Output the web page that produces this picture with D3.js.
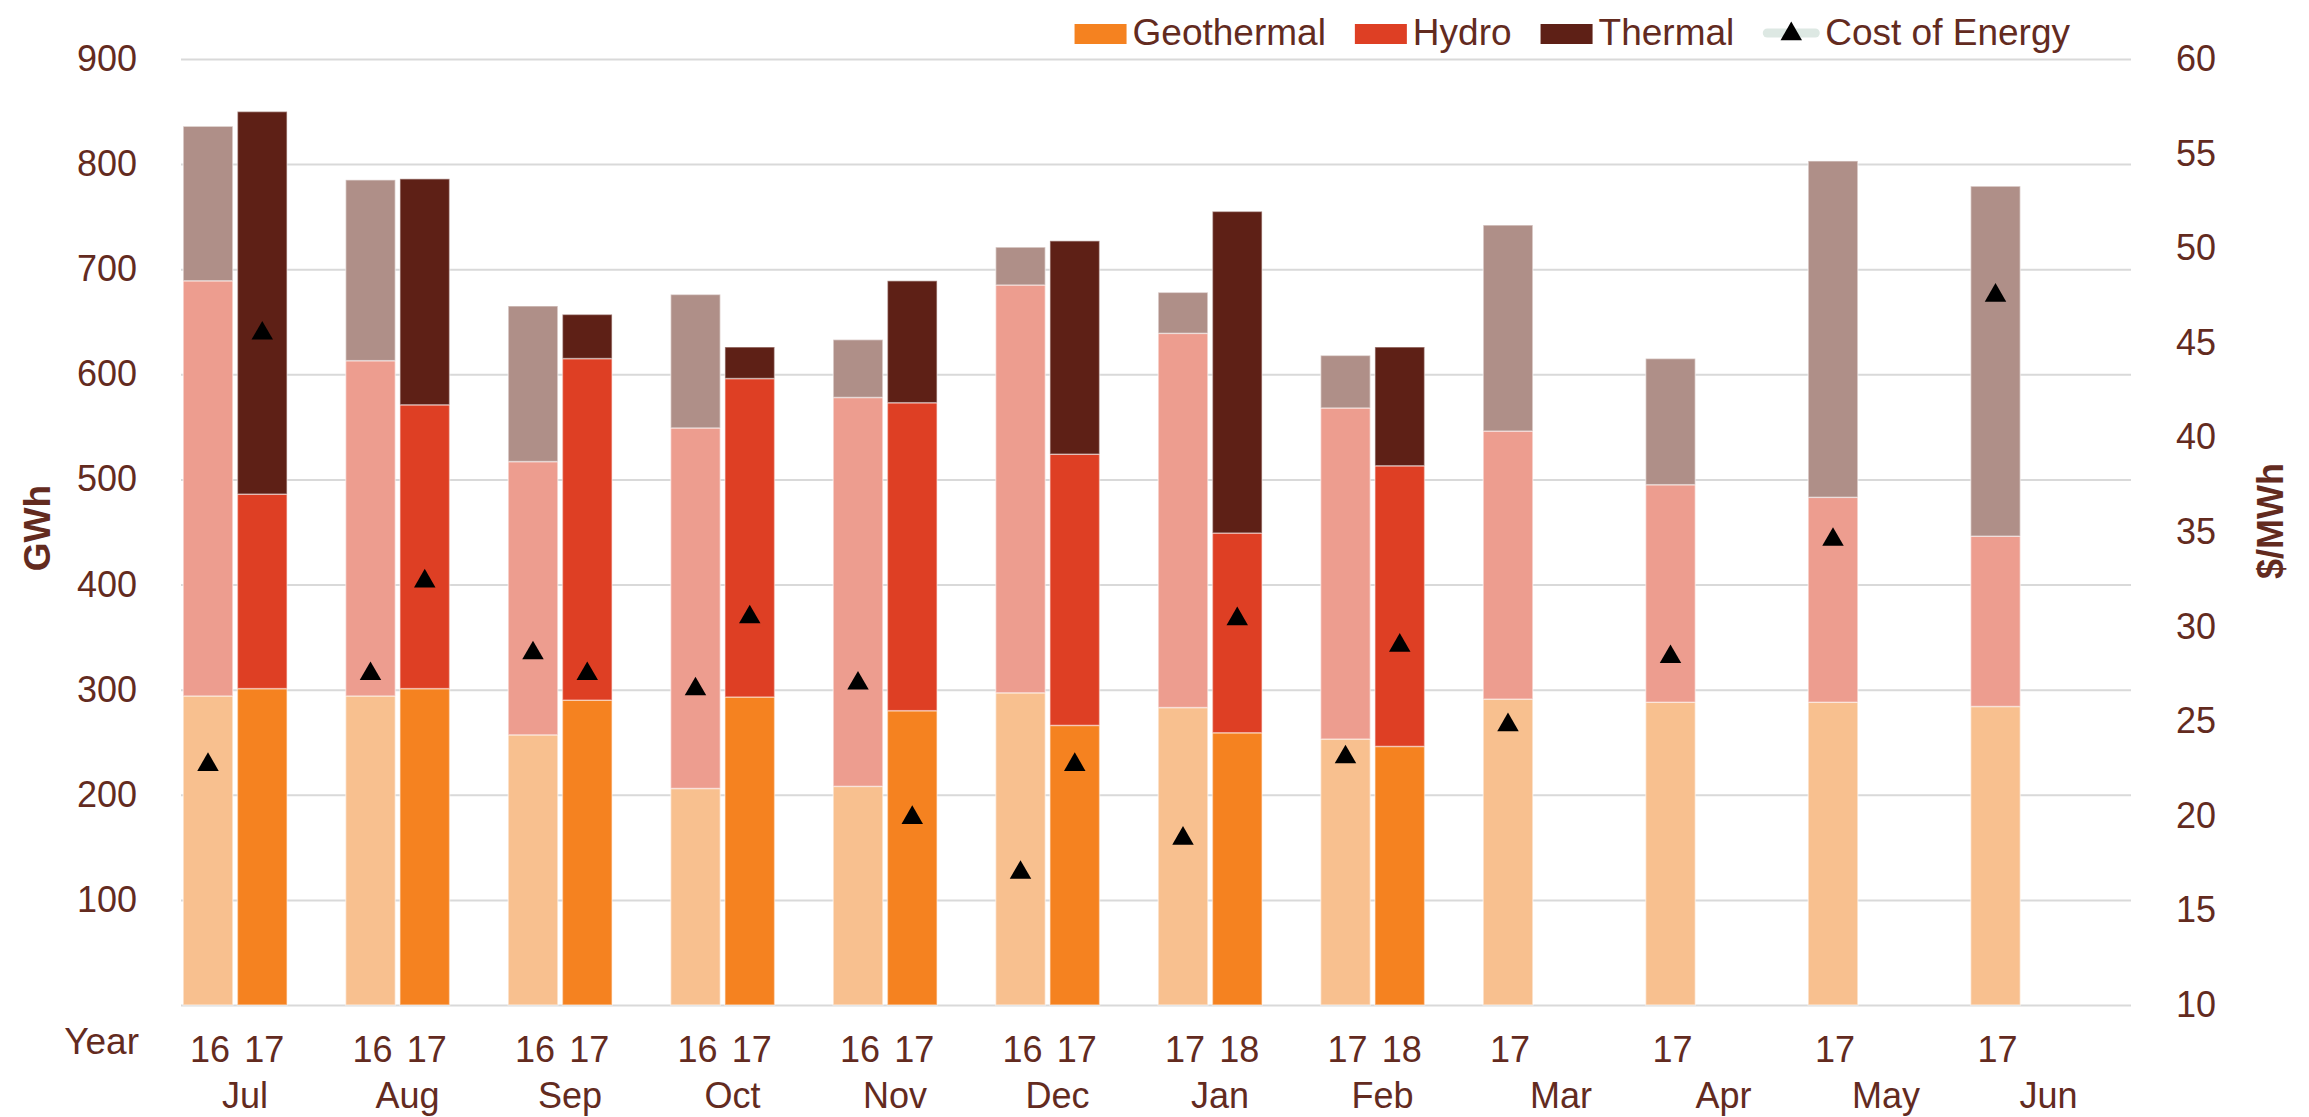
<!DOCTYPE html>
<html>
<head>
<meta charset="utf-8">
<script src="https://cdn.jsdelivr.net/npm/d3@7"></script>
<style>
  html, body { margin: 0; padding: 0; background: #fff; }
  svg { display: block; font-family: "Liberation Sans", Arial, sans-serif; }
</style>
</head>
<body>
<div id="chart"></div>
<script>
// months of the year, Jul -> Jun
const months = ["Jul", "Aug", "Sep", "Oct", "Nov", "Dec", "Jan", "Feb", "Mar", "Apr", "May", "Jun"];
const prevYear = ["16", "16", "16", "16", "16", "16", "17", "17", "17", "17", "17", "17"];
const currYear = ["17", "17", "17", "17", "17", "17", "18", "18", null, null, null, null];

// GWh per segment, earlier year (light bars)
const geoPrev     = [294, 294, 257, 206, 208, 297, 283, 253, 291, 288, 288, 284];
const hydroPrev   = [395, 319, 260, 343, 370, 388, 356, 315, 255, 207, 195, 162];
const thermalPrev = [147, 172, 148, 127,  55,  36,  39,  50, 196, 120, 320, 333];
// GWh per segment, later year (dark bars)
const geoCurr     = [301, 301, 290, 293, 280, 266, 259, 246];
const hydroCurr   = [185, 270, 325, 303, 293, 258, 190, 267];
const thermalCurr = [364, 215,  42,  30, 116, 203, 306, 113];

// $/MWh
const costPrev = [22.7, 27.5, 28.6, 26.7, 27.0, 17.0, 18.8, 23.1, 24.8, 28.4, 34.6, 47.5];
const costCurr = [45.5, 32.4, 27.5, 30.5, 19.9, 22.7, 30.4, 29.0];

const leftTicks = [100, 200, 300, 400, 500, 600, 700, 800, 900];
const rightTicks = [10, 15, 20, 25, 30, 35, 40, 45, 50, 55, 60];

const W = 2309, H = 1117;
const m = { left: 181, right: 178, top: 59, bottom: 112 };
const TXT = "#632b1f";
const colors = {
  prev: { geo: "#f8c08f", hydro: "#ed9d8f", thermal: "#af8f88" },
  curr: { geo: "#f58220", hydro: "#de3f24", thermal: "#5e2016" }
};

const svg = d3.select("#chart").append("svg").attr("width", W).attr("height", H);

const x = d3.scaleBand().domain(months).range([m.left, W - m.right]);
const inner = d3.scaleBand().domain(["prev", "curr", "spare"])
  .range([0, x.bandwidth()]).paddingInner(0.085).paddingOuter(0.04);
const y = d3.scaleLinear().domain([0, 900]).range([H - m.bottom, m.top]);
const y2 = d3.scaleLinear().domain([10, 60]).range([H - m.bottom, m.top]);

// gridlines (left axis values, incl. 0)
svg.append("g")
  .attr("transform", `translate(${m.left},0)`)
  .call(d3.axisLeft(y).tickValues([0].concat(leftTicks)).tickSize(-(W - m.left - m.right)).tickFormat(""))
  .call(g => g.select(".domain").remove())
  .call(g => g.selectAll("line").attr("stroke", "#d9d9d9").attr("stroke-width", 2));

// left axis labels
svg.append("g")
  .attr("transform", "translate(137,0)")
  .call(d3.axisLeft(y).tickValues(leftTicks).tickSize(0).tickPadding(0))
  .call(g => g.select(".domain").remove())
  .call(g => g.selectAll("text").attr("fill", TXT).style("font-size", "36px")
    .style("font-family", "'Liberation Sans', Arial, sans-serif"));

// right axis labels
svg.append("g")
  .attr("transform", "translate(2216,0)")
  .call(d3.axisLeft(y2).tickValues(rightTicks).tickSize(0).tickPadding(0))
  .call(g => g.select(".domain").remove())
  .call(g => g.selectAll("text").attr("fill", TXT).style("font-size", "36px")
    .style("font-family", "'Liberation Sans', Arial, sans-serif"));

// build stacked rows
const rows = [];
months.forEach((mo, i) => {
  rows.push({ month: mo, slot: "prev", year: prevYear[i], geo: geoPrev[i], hydro: hydroPrev[i], thermal: thermalPrev[i], cost: costPrev[i] });
  if (currYear[i] != null) {
    rows.push({ month: mo, slot: "curr", year: currYear[i], geo: geoCurr[i], hydro: hydroCurr[i], thermal: thermalCurr[i], cost: costCurr[i] });
  }
});
const keys = ["geo", "hydro", "thermal"];
const stacked = d3.stack().keys(keys)(rows);

const barX = d => x(d.month) + inner(d.slot);

stacked.forEach(layer => {
  svg.append("g").selectAll("rect")
    .data(layer)
    .join("rect")
    .attr("x", d => barX(d.data))
    .attr("width", inner.bandwidth())
    .attr("y", d => y(d[1]))
    .attr("height", d => y(d[0]) - y(d[1]))
    .attr("fill", d => colors[d.data.slot][layer.key])
    .attr("stroke", "rgba(255,255,255,0.45)")
    .attr("stroke-width", 1.5);
});

// cost markers
const tri = d3.symbol().type(d3.symbolTriangle).size(200);
svg.append("g").selectAll("path")
  .data(rows)
  .join("path")
  .attr("d", tri)
  .attr("transform", d => `translate(${barX(d) + inner.bandwidth() / 2},${y2(d.cost)})`)
  .attr("fill", "#000");

// category labels: years under bars, months under groups
svg.append("g").selectAll("text")
  .data(rows)
  .join("text")
  .attr("x", d => barX(d) + inner.bandwidth() / 2 + 2)
  .attr("y", 1062)
  .attr("text-anchor", "middle")
  .attr("fill", TXT)
  .style("font-size", "36px")
  .text(d => d.year);

svg.append("g").selectAll("text")
  .data(months)
  .join("text")
  .attr("x", (d, i) => x(d) + (currYear[i] != null ? 64 : 80))
  .attr("y", 1108)
  .attr("text-anchor", "middle")
  .attr("fill", TXT)
  .style("font-size", "36px")
  .text(d => d);

svg.append("text")
  .attr("x", 139).attr("y", 1054)
  .attr("text-anchor", "end")
  .attr("fill", TXT)
  .style("font-size", "37px")
  .text("Year");

// axis titles
svg.append("text")
  .attr("transform", "translate(50,528) rotate(-90)")
  .attr("text-anchor", "middle")
  .attr("fill", TXT)
  .style("font-size", "37px").style("font-weight", "bold")
  .text("GWh");

svg.append("text")
  .attr("transform", "translate(2283,521) rotate(-90)")
  .attr("text-anchor", "middle")
  .attr("fill", TXT)
  .style("font-size", "36px").style("font-weight", "bold")
  .text("$/MWh");

// legend, right end at ~2070
const legendItems = [
  { label: "Geothermal", color: colors.curr.geo, type: "rect" },
  { label: "Hydro", color: colors.curr.hydro, type: "rect" },
  { label: "Thermal", color: colors.curr.thermal, type: "rect" },
  { label: "Cost of Energy", color: "#000", type: "marker" }
];
const leg = svg.append("g");
const items = leg.selectAll("g").data(legendItems).join("g");
items.append("text")
  .attr("y", 45)
  .attr("fill", TXT)
  .style("font-size", "37px")
  .text(d => d.label);
const widths = [];
items.select("text").each(function () { widths.push(this.getComputedTextLength()); });
const swW = 52, swGap = 6, itemGap = 29;
let total = 0;
legendItems.forEach((d, i) => { total += (d.type === "rect" ? swW : 56) + swGap + widths[i] + (i ? itemGap : 0); });
let cx = 2070 - total;
items.each(function (d, i) {
  const g = d3.select(this);
  if (i) cx += itemGap;
  if (d.type === "rect") {
    g.append("rect").attr("x", cx).attr("y", 24).attr("width", swW).attr("height", 20).attr("fill", d.color);
    cx += swW;
  } else {
    g.append("line").attr("x1", cx + 4).attr("x2", cx + 52).attr("y1", 33).attr("y2", 33)
      .attr("stroke", "#dde8e3").attr("stroke-width", 9).attr("stroke-linecap", "round");
    g.append("path").attr("d", tri).attr("transform", `translate(${cx + 28},34)`).attr("fill", "#000");
    cx += 56;
  }
  cx += swGap;
  g.select("text").attr("x", cx);
  cx += widths[i];
});
</script>
</body>
</html>
